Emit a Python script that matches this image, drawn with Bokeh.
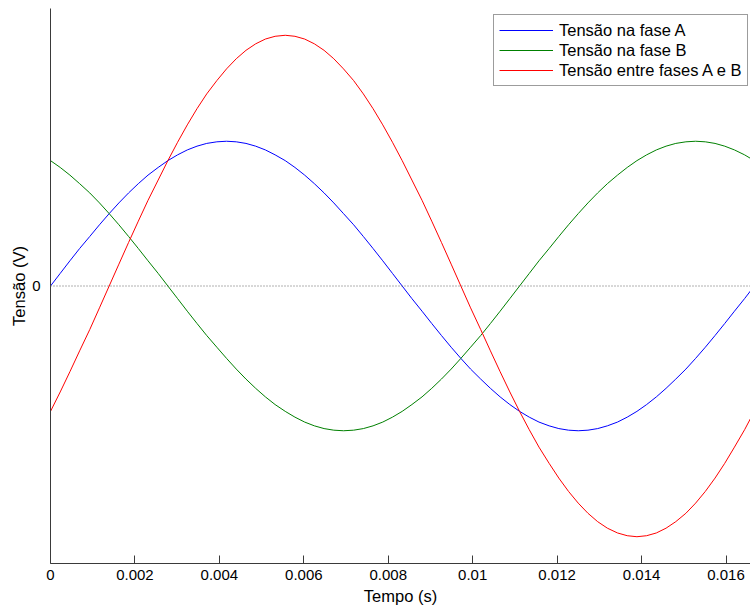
from bokeh.plotting import figure
from bokeh.models import Range1d, FixedTicker, Span, Legend, LegendItem
from bokeh.embed import file_html
from bokeh.resources import INLINE

# Time samples (s)
t = [0, 0.00023, 0.00046, 0.00069, 0.00093, 0.00116, 0.00139, 0.00162, 0.00185, 0.00208,
     0.00231, 0.00255, 0.00278, 0.00301, 0.00324, 0.00347, 0.00370, 0.00394, 0.00417, 0.00440,
     0.00463, 0.00486, 0.00509, 0.00532, 0.00556, 0.00579, 0.00602, 0.00625, 0.00648, 0.00671,
     0.00694, 0.00718, 0.00741, 0.00764, 0.00787, 0.00810, 0.00833, 0.00856, 0.00880, 0.00903,
     0.00926, 0.00949, 0.00972, 0.00995, 0.01019, 0.01042, 0.01065, 0.01088, 0.01111, 0.01134,
     0.01157, 0.01181, 0.01204, 0.01227, 0.01250, 0.01273, 0.01296, 0.01319, 0.01343, 0.01366,
     0.01389, 0.01412, 0.01435, 0.01458, 0.01481, 0.01505, 0.01528, 0.01551, 0.01574, 0.01597,
     0.01620, 0.01644, 0.01667]

# Phase A voltage
va = [0, 0.087, 0.174, 0.259, 0.342, 0.423, 0.5, 0.574, 0.643, 0.707, 0.766, 0.819, 0.866,
      0.906, 0.940, 0.966, 0.985, 0.996, 1.0, 0.996, 0.985, 0.966, 0.940, 0.906, 0.866, 0.819,
      0.766, 0.707, 0.643, 0.574, 0.5, 0.423, 0.342, 0.259, 0.174, 0.087, 0, -0.087, -0.174,
      -0.259, -0.342, -0.423, -0.5, -0.574, -0.643, -0.707, -0.766, -0.819, -0.866, -0.906,
      -0.940, -0.966, -0.985, -0.996, -1.0, -0.996, -0.985, -0.966, -0.940, -0.906, -0.866,
      -0.819, -0.766, -0.707, -0.643, -0.574, -0.5, -0.423, -0.342, -0.259, -0.174, -0.087, 0]

# Phase B voltage
vb = [0.866, 0.819, 0.766, 0.707, 0.643, 0.574, 0.5, 0.423, 0.342, 0.259, 0.174, 0.087, 0,
      -0.087, -0.174, -0.259, -0.342, -0.423, -0.5, -0.574, -0.643, -0.707, -0.766, -0.819,
      -0.866, -0.906, -0.940, -0.966, -0.985, -0.996, -1.0, -0.996, -0.985, -0.966, -0.940,
      -0.906, -0.866, -0.819, -0.766, -0.707, -0.643, -0.574, -0.5, -0.423, -0.342, -0.259,
      -0.174, -0.087, 0, 0.087, 0.174, 0.259, 0.342, 0.423, 0.5, 0.574, 0.643, 0.707, 0.766,
      0.819, 0.866, 0.906, 0.940, 0.966, 0.985, 0.996, 1.0, 0.996, 0.985, 0.966, 0.940, 0.906,
      0.866]

# Line voltage A-B
vab = [-0.866, -0.732, -0.592, -0.448, -0.301, -0.151, 0, 0.151, 0.301, 0.448, 0.592, 0.732,
       0.866, 0.993, 1.113, 1.225, 1.327, 1.419, 1.5, 1.570, 1.628, 1.673, 1.706, 1.725, 1.732,
       1.725, 1.706, 1.673, 1.628, 1.570, 1.5, 1.419, 1.327, 1.225, 1.113, 0.993, 0.866, 0.732,
       0.592, 0.448, 0.301, 0.151, 0, -0.151, -0.301, -0.448, -0.592, -0.732, -0.866, -0.993,
       -1.113, -1.225, -1.327, -1.419, -1.5, -1.570, -1.628, -1.673, -1.706, -1.725, -1.732,
       -1.725, -1.706, -1.673, -1.628, -1.570, -1.5, -1.419, -1.327, -1.225, -1.113, -0.993,
       -0.866]

x_ticks = [0, 0.002, 0.004, 0.006, 0.008, 0.01, 0.012, 0.014, 0.016]
x_tick_labels = ["0", "0.002", "0.004", "0.006", "0.008", "0.01", "0.012", "0.014", "0.016"]
y_ticks = [0]
y_tick_labels = ["0"]

series_names = ["Tensão na fase A", "Tensão na fase B", "Tensão entre fases A e B"]
series_colors = ["#0000ff", "#008000", "#ff0000"]

FONT = "Liberation Sans"
AXC = "#3a3a3a"

p = figure(width=750, height=610, x_range=Range1d(0, 0.01658), y_range=Range1d(-1.917, 1.917),
           output_backend="svg", toolbar_location=None,
           min_border_left=50, min_border_right=0, min_border_top=8, min_border_bottom=47)
p.outline_line_color = None
p.grid.visible = False
p.background_fill_color = "white"

zero = Span(location=0, dimension="width", line_color="#606060", line_dash="1 2", line_width=1)
p.add_layout(zero)

renderers = []
for ys, c in zip([va, vb, vab], series_colors):
    r = p.line(t, ys, line_color=c, line_width=1)
    renderers.append(r)

legend = Legend(items=[LegendItem(label=n, renderers=[r]) for n, r in zip(series_names, renderers)],
                location=(443, 477))
legend.border_line_color = AXC
legend.border_line_width = 1
legend.padding = 5
legend.spacing = 0
legend.margin = 0
legend.label_height = 20
legend.glyph_height = 20
legend.glyph_width = 54
legend.label_standoff = 6
legend.label_text_font = FONT
legend.label_text_font_size = "16.5px"
legend.label_text_color = "black"
legend.background_fill_color = "white"
legend.background_fill_alpha = 1
p.add_layout(legend)

xa = p.xaxis[0]
xa.ticker = FixedTicker(ticks=x_ticks)
xa.major_label_overrides = dict(zip(x_ticks, x_tick_labels))
xa.axis_line_color = AXC
xa.major_tick_line_color = AXC
xa.major_tick_in = 8
xa.major_tick_out = 0
xa.minor_tick_line_color = None
xa.major_label_text_font = FONT
xa.major_label_text_font_size = "15px"
xa.major_label_text_color = "black"
xa.major_label_standoff = 6
xa.axis_label = "Tempo (s)"
xa.axis_label_text_font = FONT
xa.axis_label_text_font_size = "16.5px"
xa.axis_label_text_font_style = "normal"
xa.axis_label_text_color = "black"
xa.axis_label_standoff = 4

ya = p.yaxis[0]
ya.ticker = FixedTicker(ticks=y_ticks)
ya.major_label_overrides = dict(zip(y_ticks, y_tick_labels))
ya.axis_line_color = AXC
ya.major_tick_line_color = None
ya.minor_tick_line_color = None
ya.major_label_text_font = FONT
ya.major_label_text_font_size = "15px"
ya.major_label_text_color = "black"
ya.major_label_standoff = 4
ya.axis_label = "Tensão (V)"
ya.axis_label_text_font = FONT
ya.axis_label_text_font_size = "16.5px"
ya.axis_label_text_font_style = "normal"
ya.axis_label_text_color = "black"
ya.axis_label_standoff = 1

open("out.html", "w").write(file_html(p, INLINE))
